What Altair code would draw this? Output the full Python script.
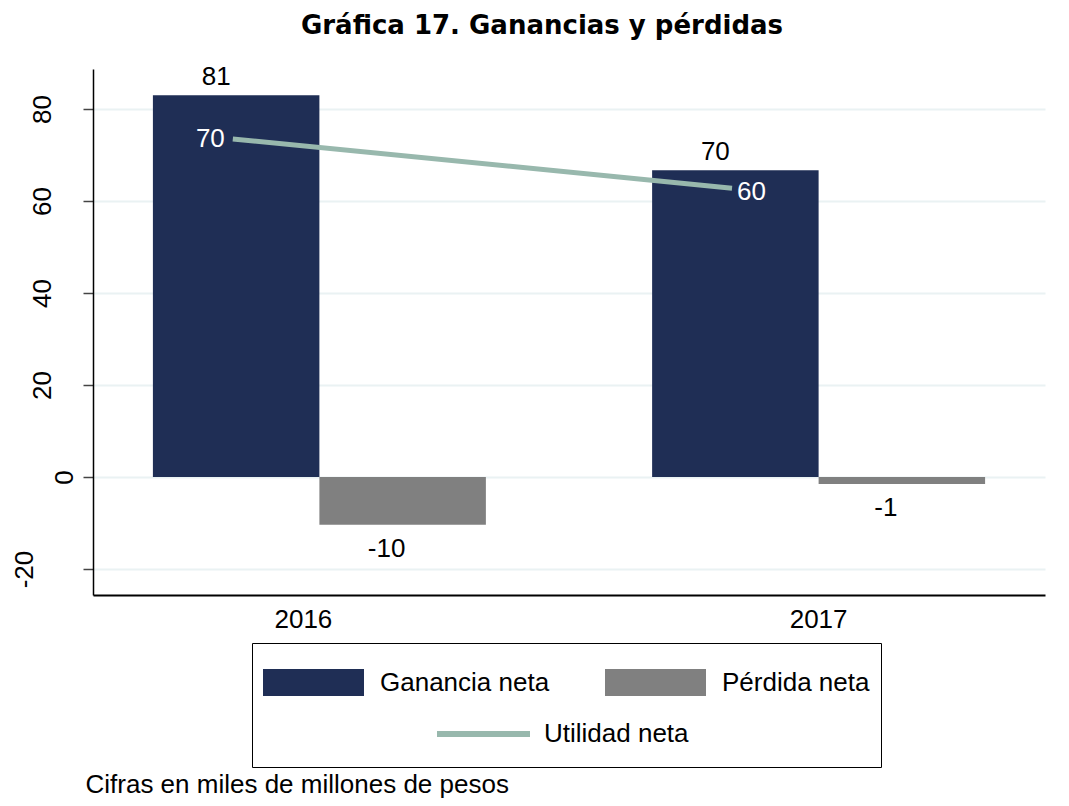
import altair as alt
import pandas as pd

# ---- data ----
years = ["2016", "2017"]
series = ["Ganancia neta", "Pérdida neta", "Utilidad neta"]
ganancia = [83.0, 66.7]
perdida = [-10.4, -1.5]
utilidad = [73.5, 62.8]
ganancia_lbl = ["81", "70"]
perdida_lbl = ["-10", "-1"]
utilidad_lbl = ["70", "60"]
y_ticks = [-20, 0, 20, 40, 60, 80]
title_text = "Gráfica 17. Ganancias y pérdidas"
note_text = "Cifras en miles de millones de pesos"

bars_df = pd.DataFrame({
    "year": years * 2,
    "serie": [series[0]] * 2 + [series[1]] * 2,
    "valor": ganancia + perdida,
    "etiqueta": ganancia_lbl + perdida_lbl,
})
line_df = pd.DataFrame({
    "year": years,
    "serie": [series[2]] * 2,
    "valor": utilidad,
    "etiqueta": utilidad_lbl,
})

FONT = "Liberation Sans"
NAVY = "#1F2E55"
GRAY = "#808080"
SAGE = "#98B8AD"

x_scale = alt.Scale(paddingInner=0.333, paddingOuter=0.12)
x_axis = alt.Axis(
    title=note_text, titleX=-8, titleY=197, titleAlign="left", titleAngle=0,
    titleBaseline="alphabetic", titleFont=FONT, titleFontSize=26,
    titleFontWeight="normal", titleColor="black",
    labelAngle=0, labelFont=FONT, labelFontSize=26, labelColor="black",
    labelPadding=11, labelOffset={"expr": "datum.value == '2016' ? -16 : 0"},
    ticks=False, grid=False, domainColor="black", domainWidth=2,
)
y_scale = alt.Scale(domain=[-25.65, 88.7], nice=False, zero=False)
y_axis = alt.Axis(
    title=None, values=y_ticks, labelExpr="'' + datum.value",
    labelAngle=270, labelAlign="center", labelBaseline="alphabetic",
    labelFont=FONT, labelFontSize=26, labelColor="black",
    labelPadding={"expr": "datum.value === 0 ? 11 : (datum.value < 0 ? 51 : 33)"},
    tickSize=10, tickWidth=1.5, tickColor="#444444",
    domainColor="black", domainWidth=1.5,
    grid=True, gridColor="#EAF2F3", gridWidth=2,
)

X = alt.X("year:N", scale=x_scale, axis=x_axis)
Y = alt.Y("valor:Q", scale=y_scale, axis=y_axis)
XO = alt.XOffset("serie:N", scale=alt.Scale(domain=series[:2], paddingInner=0, paddingOuter=0))
XL = alt.X("year:N", scale=x_scale, axis=x_axis, bandPosition=0.24)

bars = alt.Chart(bars_df).mark_bar().encode(
    x=X, xOffset=XO, y=Y,
    color=alt.Color(
        "serie:N",
        scale=alt.Scale(domain=series[:2], range=[NAVY, GRAY]),
        legend=alt.Legend(
            title="\u00a0", titleOrient="bottom", titleFontSize=30, titlePadding=15,
            orient="none", legendX=159, legendY=574, direction="horizontal",
            symbolType="M-1,-0.267H1V0.267H-1Z", symbolSize=10201,
            symbolStrokeWidth=0, symbolOpacity=1,
            labelFont=FONT, labelFontSize=26, labelColor="black", labelLimit=400,
            labelOffset=16, columnPadding=55, padding=11, clipHeight=57,
            strokeColor="black",
        ),
    ),
)

pos_lbl = alt.Chart(bars_df).transform_filter("datum.valor > 0").mark_text(
    font=FONT, fontSize=26, color="black", baseline="alphabetic", dy=-10, dx=-20
).encode(x=X, xOffset=XO, y=Y, text="etiqueta:N")

neg_lbl = alt.Chart(bars_df).transform_filter("datum.valor < 0").mark_text(
    font=FONT, fontSize=26, color="black", baseline="top", dy=11, dx=-16
).encode(x=X, xOffset=XO, y=Y, text="etiqueta:N")

line = alt.Chart(line_df).mark_line(strokeWidth=5).encode(
    x=XL, y=Y,
    stroke=alt.Stroke(
        "serie:N",
        scale=alt.Scale(domain=[series[2]], range=[SAGE]),
        legend=alt.Legend(
            title=None, orient="none", legendX=341, legendY=650,
            symbolType="stroke", symbolSize=8649, symbolStrokeWidth=6,
            labelFont=FONT, labelFontSize=26, labelColor="black", labelLimit=400,
            labelOffset=11, clipHeight=30, padding=0,
        ),
    ),
)

line_lbl_a = alt.Chart(line_df).transform_filter("datum.year == '2016'").mark_text(
    font=FONT, fontSize=26, color="white", align="right", baseline="middle", dx=-8, dy=0
).encode(x=XL, y=Y, text="etiqueta:N")

line_lbl_b = alt.Chart(line_df).transform_filter("datum.year == '2017'").mark_text(
    font=FONT, fontSize=26, color="white", align="left", baseline="middle", dx=5, dy=4
).encode(x=XL, y=Y, text="etiqueta:N")

chart = alt.layer(bars, pos_lbl, neg_lbl, line, line_lbl_a, line_lbl_b).properties(
    width=952, height=526,
    background="white",
    title=alt.TitleParams(
        text=title_text, font="DejaVu Sans", fontSize=26, fontWeight="bold",
        color="black", anchor="middle", frame="group", dx=-27, offset=25,
    ),
    autosize=alt.AutoSizeParams(type="none"),
    padding={"left": 85, "top": 61, "right": 16, "bottom": 203},
).configure_view(stroke=None)

chart.save("out.html", embed_options={"renderer": "svg", "actions": False})
